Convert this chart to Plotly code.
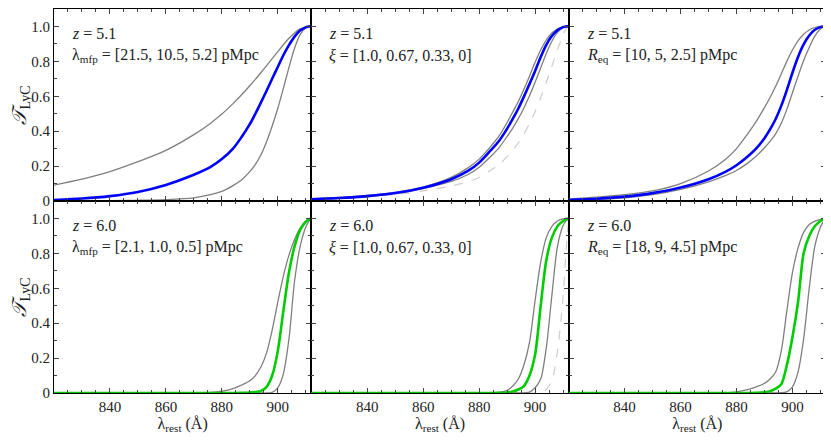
import plotly.graph_objects as go
from plotly.subplots import make_subplots

# rest-frame wavelength grid (Angstrom) shared by every curve
wavelength = [820, 830, 840, 850, 860, 870, 876, 880, 884, 887, 890, 892,
              894, 896, 898, 900, 902, 904, 906, 908, 910, 911, 912]

# z = 5.1, lambda_mfp = [21.5, 10.5, 5.2] pMpc
mfp51_hi = [0.091, 0.125, 0.168, 0.225, 0.29, 0.38, 0.446, 0.498, 0.558, 0.607, 0.66, 0.697,
            0.736, 0.776, 0.816, 0.856, 0.895, 0.932, 0.963, 0.986, 0.998, 1.0, 1.0]
mfp51_mid = [0.006, 0.014, 0.028, 0.052, 0.092, 0.15, 0.195, 0.24, 0.30, 0.365, 0.44, 0.50,
             0.565, 0.632, 0.70, 0.768, 0.835, 0.893, 0.942, 0.977, 0.995, 1.0, 1.0]
mfp51_lo = [0.0, 0.001, 0.002, 0.004, 0.008, 0.018, 0.036, 0.055, 0.088, 0.12, 0.168, 0.21,
            0.265, 0.34, 0.43, 0.53, 0.645, 0.765, 0.875, 0.953, 0.993, 1.0, 1.0]

# z = 5.1, xi = [1.0, 0.67, 0.33, 0]
xi51_a = [0.012, 0.02, 0.032, 0.05, 0.08, 0.135, 0.19, 0.24, 0.31, 0.37, 0.45, 0.51,
          0.57, 0.64, 0.715, 0.795, 0.865, 0.922, 0.962, 0.986, 0.998, 1.0, 1.0]
xi51_b = [0.01, 0.017, 0.028, 0.046, 0.076, 0.125, 0.172, 0.22, 0.288, 0.342, 0.415, 0.47,
          0.53, 0.598, 0.67, 0.745, 0.825, 0.895, 0.945, 0.978, 0.996, 1.0, 1.0]
xi51_c = [0.009, 0.015, 0.025, 0.042, 0.071, 0.112, 0.152, 0.193, 0.253, 0.303, 0.37, 0.418,
          0.472, 0.533, 0.603, 0.68, 0.763, 0.845, 0.915, 0.966, 0.993, 1.0, 1.0]
xi51_d = [0.006, 0.013, 0.023, 0.037, 0.058, 0.086, 0.11, 0.135, 0.175, 0.208, 0.254, 0.291,
          0.333, 0.383, 0.443, 0.513, 0.593, 0.68, 0.773, 0.866, 0.952, 0.985, 1.0]

# z = 5.1, R_eq = [10, 5, 2.5] pMpc
req51_hi = [0.012, 0.022, 0.036, 0.058, 0.10, 0.172, 0.238, 0.30, 0.385, 0.455, 0.535, 0.593,
            0.657, 0.728, 0.80, 0.865, 0.917, 0.955, 0.98, 0.994, 1.0, 1.0, 1.0]
req51_mid = [0.006, 0.013, 0.025, 0.045, 0.077, 0.125, 0.167, 0.205, 0.255, 0.30, 0.36, 0.41,
             0.47, 0.545, 0.635, 0.735, 0.825, 0.897, 0.948, 0.981, 0.996, 1.0, 1.0]
req51_lo = [0.004, 0.009, 0.018, 0.036, 0.066, 0.11, 0.145, 0.175, 0.217, 0.256, 0.305, 0.342,
            0.385, 0.445, 0.525, 0.62, 0.715, 0.805, 0.88, 0.945, 0.985, 0.997, 1.0]

# z = 6.0, lambda_mfp = [2.1, 1.0, 0.5] pMpc
mfp60_hi = [0, 0, 0, 0, 0, 0, 0.003, 0.01, 0.025, 0.045, 0.07, 0.10,
            0.15, 0.23, 0.36, 0.52, 0.67, 0.79, 0.88, 0.945, 0.985, 0.995, 1.0]
mfp60_mid = [0, 0, 0, 0, 0, 0, 0, 0, 0, 0.001, 0.003, 0.006,
             0.012, 0.035, 0.10, 0.24, 0.47, 0.69, 0.84, 0.935, 0.98, 0.993, 1.0]
mfp60_lo = [0, 0, 0, 0, 0, 0, 0, 0, 0, 0, 0, 0,
            0, 0, 0.004, 0.03, 0.11, 0.31, 0.64, 0.84, 0.95, 0.98, 1.0]

# z = 6.0, xi = [1.0, 0.67, 0.33, 0]
xi60_a = [0, 0, 0, 0, 0, 0, 0, 0, 0.001, 0.004, 0.015, 0.04,
          0.08, 0.16, 0.29, 0.53, 0.75, 0.89, 0.955, 0.985, 0.997, 1.0, 1.0]
xi60_b = [0, 0, 0, 0, 0, 0, 0, 0, 0, 0.001, 0.003, 0.008,
          0.02, 0.04, 0.10, 0.22, 0.50, 0.76, 0.89, 0.955, 0.985, 0.995, 1.0]
xi60_c = [0, 0, 0, 0, 0, 0, 0, 0, 0, 0, 0, 0,
          0, 0.001, 0.005, 0.03, 0.08, 0.26, 0.56, 0.84, 0.96, 0.985, 1.0]
xi60_d = [0, 0, 0, 0, 0, 0, 0, 0, 0, 0, 0, 0,
          0, 0, 0, 0, 0.003, 0.02, 0.07, 0.24, 0.55, 0.80, 1.0]

# z = 6.0, R_eq = [18, 9, 4.5] pMpc
req60_hi = [0, 0, 0, 0, 0, 0, 0.002, 0.007, 0.02, 0.035, 0.055, 0.08,
            0.12, 0.24, 0.47, 0.69, 0.83, 0.92, 0.965, 0.985, 0.995, 1.0, 1.0]
req60_mid = [0, 0, 0, 0, 0, 0, 0, 0, 0, 0.001, 0.004, 0.01,
             0.025, 0.05, 0.16, 0.32, 0.52, 0.80, 0.90, 0.955, 0.985, 0.995, 1.0]
req60_lo = [0, 0, 0, 0, 0, 0, 0, 0, 0, 0, 0, 0,
            0, 0.002, 0.006, 0.035, 0.12, 0.31, 0.60, 0.84, 0.95, 0.98, 1.0]

x_ticks = [840, 860, 880, 900]
y_ticks = [0, 0.2, 0.4, 0.6, 0.8, 1.0]
y_ticktext = ["0", "0.2", "0.4", "0.6", "0.8", "1.0"]

panel_labels = [
    ("<i>z</i> = 5.1", "λ<sub>mfp</sub> = [21.5, 10.5, 5.2] pMpc"),
    ("<i>z</i> = 5.1", "<i>ξ</i> = [1.0, 0.67, 0.33, 0]"),
    ("<i>z</i> = 5.1", "<i>R</i><sub>eq</sub> = [10, 5, 2.5] pMpc"),
    ("<i>z</i> = 6.0", "λ<sub>mfp</sub> = [2.1, 1.0, 0.5] pMpc"),
    ("<i>z</i> = 6.0", "<i>ξ</i> = [1.0, 0.67, 0.33, 0]"),
    ("<i>z</i> = 6.0", "<i>R</i><sub>eq</sub> = [18, 9, 4.5] pMpc"),
]

# (gray curves, dashed curves, highlighted curve) per panel
panels = [
    ([mfp51_hi, mfp51_lo], [], mfp51_mid),
    ([xi51_a, xi51_c], [xi51_d], xi51_b),
    ([req51_hi, req51_lo], [], req51_mid),
    ([mfp60_hi, mfp60_lo], [], mfp60_mid),
    ([xi60_a, xi60_c], [xi60_d], xi60_b),
    ([req60_hi, req60_lo], [], req60_mid),
]

FONT = "Liberation Serif"
TXT = "#222222"

fig = make_subplots(rows=2, cols=3, horizontal_spacing=0, vertical_spacing=0)

for i, (grays, dashed, main) in enumerate(panels):
    row, col = i // 3 + 1, i % 3 + 1
    main_color = "#0000ff" if row == 1 else "#00cc00"
    for d in dashed:
        fig.add_trace(go.Scatter(x=wavelength, y=d, mode="lines",
                                 line=dict(color="#cdcdcd", width=1.2, dash="dash",
                                           shape="spline", smoothing=0.8),
                                 showlegend=False), row=row, col=col)
    for g in grays:
        fig.add_trace(go.Scatter(x=wavelength, y=g, mode="lines",
                                 line=dict(color="#7f7f7f", width=1.3, shape="spline", smoothing=0.8),
                                 showlegend=False), row=row, col=col)
    fig.add_trace(go.Scatter(x=wavelength, y=main, mode="lines",
                             line=dict(color=main_color, width=2.6, shape="spline", smoothing=0.8),
                             showlegend=False), row=row, col=col)

    top, sub = panel_labels[i]
    xd = "x domain" if i == 0 else "x%d domain" % (i + 1)
    yd = "y domain" if i == 0 else "y%d domain" % (i + 1)
    fig.add_annotation(text=top, xref=xd, yref=yd, x=0.062, y=0.873, xanchor="left",
                       yanchor="middle", showarrow=False, font=dict(family=FONT, size=16, color=TXT))
    fig.add_annotation(text=sub, xref=xd, yref=yd, x=0.062, y=0.76, xanchor="left",
                       yanchor="middle", showarrow=False, font=dict(family=FONT, size=16, color=TXT))

    fig.update_xaxes(range=[820, 912], showline=True, linecolor="black", linewidth=1.2,
                     mirror="ticks", ticks="inside", ticklen=5, tickcolor="#444",
                     tickvals=x_ticks, showgrid=False, zeroline=False,
                     minor=dict(ticks="inside", ticklen=3, dtick=5, tick0=0, tickcolor="#444"),
                     showticklabels=(row == 2),
                     tickfont=dict(family=FONT, size=15, color=TXT),
                     row=row, col=col)
    fig.update_yaxes(range=[0, 1.1], showline=True, linecolor="black", linewidth=1.2,
                     mirror="ticks", ticks="inside", ticklen=5, tickcolor="#444",
                     tickvals=y_ticks, ticktext=y_ticktext,
                     minor=dict(ticks="inside", ticklen=3, tickvals=[0.1, 0.3, 0.5, 0.7, 0.9],
                                tickcolor="#444"),
                     showgrid=False, zeroline=False,
                     showticklabels=(col == 1),
                     tickfont=dict(family=FONT, size=15, color=TXT),
                     row=row, col=col)

for col in range(1, 4):
    fig.update_xaxes(title=dict(text="λ<sub>rest</sub> (Å)", standoff=2,
                                font=dict(family=FONT, size=16, color=TXT)), row=2, col=col)
for row in range(1, 3):
    fig.update_yaxes(title=dict(text="<i>𝒯</i><sub>LyC</sub>", standoff=6,
                                font=dict(family=FONT, size=20, color=TXT)), row=row, col=1)

# page body adds an 8 px offset, so the figure is sized to fill the rest of the window
fig.update_layout(width=823, height=433, margin=dict(l=46, r=5, t=1, b=48, autoexpand=False),
                  plot_bgcolor="white", paper_bgcolor="white",
                  font=dict(family=FONT, color=TXT))

fig.write_html("out.html")
